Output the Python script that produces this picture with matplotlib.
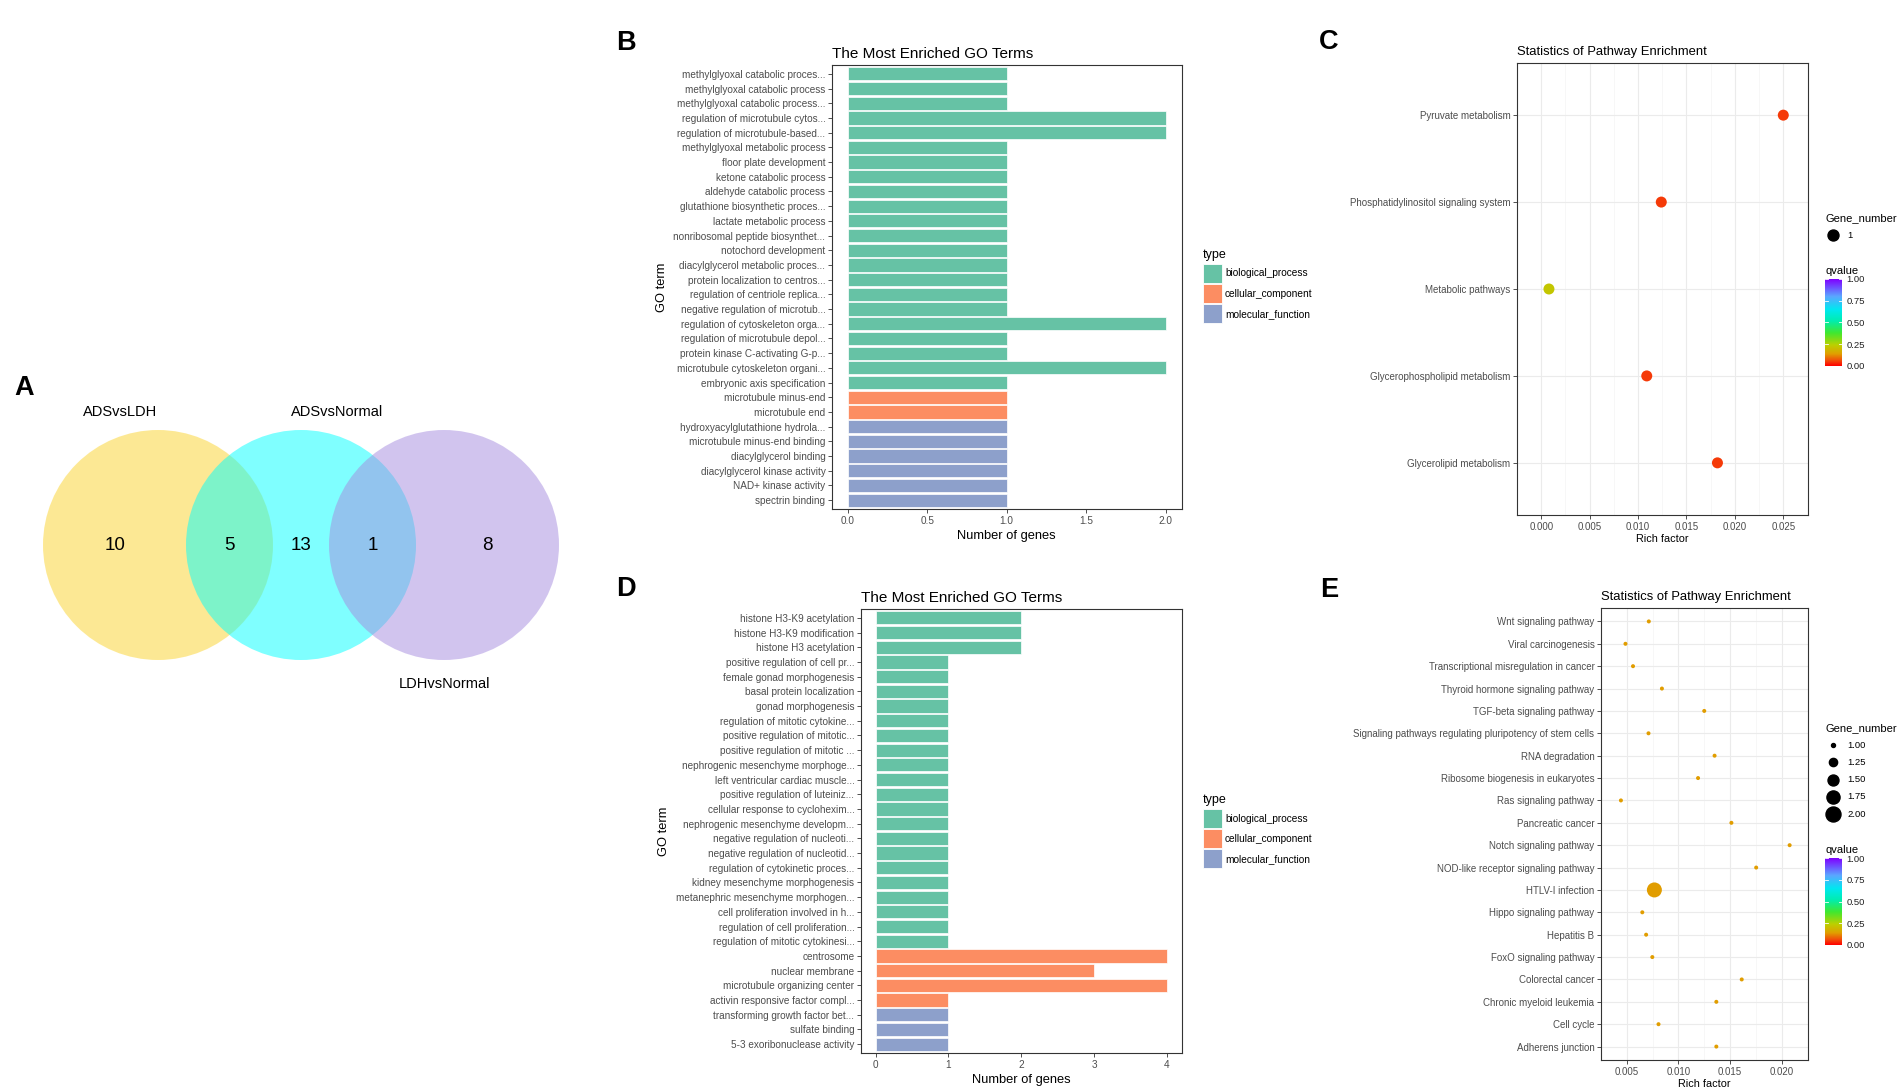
import numpy as np
import matplotlib
matplotlib.use('Agg')
import matplotlib.pyplot as plt
from matplotlib.patches import Circle, Rectangle
from matplotlib.colors import LinearSegmentedColormap

plt.rcParams['font.family'] = ['Liberation Sans', 'DejaVu Sans']

W, H = 1904, 1092

# ------------------------------------------------------------------ data
venn_sets = ['ADSvsLDH', 'ADSvsNormal', 'LDHvsNormal']
# regions: only A, A&B, only B, B&C, only C
venn_counts = [10, 5, 13, 1, 8]

go_b_terms = [
    'methylglyoxal catabolic proces...', 'methylglyoxal catabolic process',
    'methylglyoxal catabolic process...', 'regulation of microtubule cytos...',
    'regulation of microtubule-based...', 'methylglyoxal metabolic process',
    'floor plate development', 'ketone catabolic process',
    'aldehyde catabolic process', 'glutathione biosynthetic proces...',
    'lactate metabolic process', 'nonribosomal peptide biosynthet...',
    'notochord development', 'diacylglycerol metabolic proces...',
    'protein localization to centros...', 'regulation of centriole replica...',
    'negative regulation of microtub...', 'regulation of cytoskeleton orga...',
    'regulation of microtubule depol...', 'protein kinase C-activating G-p...',
    'microtubule cytoskeleton organi...', 'embryonic axis specification',
    'microtubule minus-end', 'microtubule end',
    'hydroxyacylglutathione hydrola...', 'microtubule minus-end binding',
    'diacylglycerol binding', 'diacylglycerol kinase activity',
    'NAD+ kinase activity', 'spectrin binding']
go_b_counts = [1, 1, 1, 2, 2, 1, 1, 1, 1, 1, 1, 1, 1, 1, 1, 1, 1, 2, 1, 1,
               2, 1, 1, 1, 1, 1, 1, 1, 1, 1]
go_b_types = (['biological_process'] * 22 + ['cellular_component'] * 2 +
              ['molecular_function'] * 6)

go_d_terms = [
    'histone H3-K9 acetylation', 'histone H3-K9 modification',
    'histone H3 acetylation', 'positive regulation of cell pr...',
    'female gonad morphogenesis', 'basal protein localization',
    'gonad morphogenesis', 'regulation of mitotic cytokine...',
    'positive regulation of mitotic...', 'positive regulation of mitotic ...',
    'nephrogenic mesenchyme morphoge...', 'left ventricular cardiac muscle...',
    'positive regulation of luteiniz...', 'cellular response to cyclohexim...',
    'nephrogenic mesenchyme developm...', 'negative regulation of nucleoti...',
    'negative regulation of nucleotid...', 'regulation of cytokinetic proces...',
    'kidney mesenchyme morphogenesis', 'metanephric mesenchyme morphogen...',
    'cell proliferation involved in h...', 'regulation of cell proliferation...',
    'regulation of mitotic cytokinesi...', 'centrosome', 'nuclear membrane',
    'microtubule organizing center', 'activin responsive factor compl...',
    'transforming growth factor bet...', 'sulfate binding',
    '5-3 exoribonuclease activity']
go_d_counts = [2, 2, 2, 1, 1, 1, 1, 1, 1, 1, 1, 1, 1, 1, 1, 1, 1, 1, 1, 1,
               1, 1, 1, 4, 3, 4, 1, 1, 1, 1]
go_d_types = (['biological_process'] * 23 + ['cellular_component'] * 4 +
              ['molecular_function'] * 3)

go_type_names = ['biological_process', 'cellular_component', 'molecular_function']
go_type_colors = ['#66C2A5', '#FC8D62', '#8DA0CB']

kegg_c_terms = ['Pyruvate metabolism', 'Phosphatidylinositol signaling system',
                'Metabolic pathways', 'Glycerophospholipid metabolism',
                'Glycerolipid metabolism']
kegg_c_rich = [0.0250, 0.0124, 0.0008, 0.0109, 0.0182]
kegg_c_q = [0.05, 0.05, 0.22, 0.05, 0.05]
kegg_c_genes = [1, 1, 1, 1, 1]

kegg_e_terms = ['Wnt signaling pathway', 'Viral carcinogenesis',
                'Transcriptional misregulation in cancer',
                'Thyroid hormone signaling pathway', 'TGF-beta signaling pathway',
                'Signaling pathways regulating pluripotency of stem cells',
                'RNA degradation', 'Ribosome biogenesis in eukaryotes',
                'Ras signaling pathway', 'Pancreatic cancer',
                'Notch signaling pathway', 'NOD-like receptor signaling pathway',
                'HTLV-I infection', 'Hippo signaling pathway', 'Hepatitis B',
                'FoxO signaling pathway', 'Colorectal cancer',
                'Chronic myeloid leukemia', 'Cell cycle', 'Adherens junction']
kegg_e_rich = [0.00713, 0.00487, 0.00560, 0.00840, 0.01250, 0.00710, 0.01350,
               0.01190, 0.00443, 0.01513, 0.02077, 0.01753, 0.00767, 0.00650,
               0.00687, 0.00747, 0.01613, 0.01367, 0.00807, 0.01367]
kegg_e_q = [0.14, 0.14, 0.14, 0.14, 0.14, 0.14, 0.14, 0.14, 0.14, 0.14,
            0.14, 0.14, 0.14, 0.14, 0.14, 0.14, 0.14, 0.14, 0.14, 0.14]
kegg_e_genes = [1, 1, 1, 1, 1, 1, 1, 1, 1, 1, 1, 1, 2, 1, 1, 1, 1, 1, 1, 1]
kegg_e_size_breaks = [1.00, 1.25, 1.50, 1.75, 2.00]
q_breaks = [0.00, 0.25, 0.50, 0.75, 1.00]

# ------------------------------------------------------------------ style
qcmap = LinearSegmentedColormap.from_list('q', [
    (0.00, '#FF0000'), (0.06, '#F24A0A'), (0.14, '#E0A000'),
    (0.24, '#BCD000'), (0.38, '#40E830'), (0.52, '#00EDB0'),
    (0.65, '#00E8F0'), (0.80, '#5AA8FF'), (1.00, '#8000FF')])
TICKCOL = '#4D4D4D'
FRAME = '#333333'

fig = plt.figure(figsize=(W / 100, H / 100), dpi=100)


def fax(l, t, r, b):
    return fig.add_axes([l / W, 1 - b / H, (r - l) / W, (b - t) / H])


def ftext(x, y, s, **kw):
    kw.setdefault('va', 'center')
    return fig.text(x / W, 1 - y / H, s, **kw)


def frect(l, t, w, h, **kw):
    fig.add_artist(Rectangle((l / W, 1 - (t + h) / H), w / W, h / H,
                             transform=fig.transFigure, **kw))


# ------------------------------------------------------------------ A: Venn
axA = fax(0, 0, 580, H)
axA.set_xlim(0, 580)
axA.set_ylim(H, 0)
axA.axis('off')
cx = [158, 301, 444]
cy = 545
r = 115
venn_cols = ['#FBD32B', '#00FFFF', '#A58BDF']
for x0, col in zip(cx, venn_cols):
    axA.add_patch(Circle((x0, cy), r, facecolor=col, edgecolor='none', alpha=0.5))
num_x = [cx[0] - 0.37 * r, (cx[0] + cx[1]) / 2, cx[1], (cx[1] + cx[2]) / 2,
         cx[2] + 0.38 * r]
for xx, v in zip(num_x, venn_counts):
    axA.text(xx, cy, str(v), ha='center', va='center', fontsize=13.5)
axA.text(cx[0] - 38, 412, venn_sets[0], ha='center', va='center', fontsize=10.5)
axA.text(cx[1] + 36, 412, venn_sets[1], ha='center', va='center', fontsize=10.5)
axA.text(cx[2], 684, venn_sets[2], ha='center', va='center', fontsize=10.5)

# ------------------------------------------------------------------ GO bars


def go_bar(ax, terms, counts, types, xticks, xticklabels):
    n = len(terms)
    y = np.arange(n)
    cmap = dict(zip(go_type_names, go_type_colors))
    ax.barh(y, counts, height=0.9, color=[cmap[t] for t in types],
            edgecolor='white', linewidth=0.5, zorder=2)
    xmax = max(counts)
    ax.set_xlim(-0.05 * xmax, 1.05 * xmax)
    ax.set_ylim(n - 1 + 0.6, -0.6)
    ax.set_yticks(y)
    ax.set_yticklabels(terms)
    ax.set_xticks(xticks)
    ax.set_xticklabels(xticklabels)
    ax.tick_params(axis='both', length=2.75, width=0.6, color=FRAME,
                   labelsize=7.2, labelcolor=TICKCOL, pad=2)
    for s in ax.spines.values():
        s.set_color(FRAME)
        s.set_linewidth(0.8)
    ax.set_title('The Most Enriched GO Terms', loc='left', fontsize=11, pad=5)
    ax.set_xlabel('Number of genes', fontsize=9.3, labelpad=3)
    ax.set_ylabel('GO term', fontsize=9.3, labelpad=4)


def type_legend(top):
    ftext(1203, top, 'type', fontsize=9, ha='left')
    for i, (nm, col) in enumerate(zip(go_type_names, go_type_colors)):
        yy = top + 9 + 20.2 * i
        frect(1203, yy, 19, 19, facecolor=col, edgecolor='white', linewidth=0.6)
        ftext(1225, yy + 9.5, nm, fontsize=7.3, ha='left')


axB = fax(832, 65, 1181.5, 509)
go_bar(axB, go_b_terms, go_b_counts, go_b_types,
       [0, 0.5, 1, 1.5, 2], ['0.0', '0.5', '1.0', '1.5', '2.0'])
type_legend(255)

axD = fax(861, 609, 1181.5, 1053)
go_bar(axD, go_d_terms, go_d_counts, go_d_types,
       [0, 1, 2, 3, 4], ['0', '1', '2', '3', '4'])
type_legend(800)

# ------------------------------------------------------------------ KEGG dots


def px_to_s(d):
    return (d * 0.72) ** 2


def gene_diam(g, gmin, gmax, dmin=4.0, dmax=15.0):
    if gmax == gmin:
        return 11.0
    a = dmin ** 2 + (g - gmin) / (gmax - gmin) * (dmax ** 2 - dmin ** 2)
    return np.sqrt(a)


def kegg_dot(ax, terms, rich, q, genes, xticks, xticklabels):
    n = len(terms)
    y = np.arange(n)
    gmin, gmax = min(genes), max(genes)
    sizes = [px_to_s(gene_diam(g, gmin, gmax)) for g in genes]
    ax.scatter(rich, y, s=sizes, c=q, cmap=qcmap, vmin=0, vmax=1,
               edgecolors='none', zorder=3)
    lo, hi = min(rich), max(rich)
    pad = 0.05 * (hi - lo)
    ax.set_xlim(lo - pad, hi + pad)
    ax.set_ylim(n - 1 + 0.6, -0.6)
    ax.set_yticks(y)
    ax.set_yticklabels(terms)
    ax.set_xticks(xticks)
    ax.set_xticklabels(xticklabels)
    step = xticks[1] - xticks[0]
    ax.set_xticks([t + step / 2 for t in [xticks[0] - step] + list(xticks)], minor=True)
    ax.grid(True, which='major', color='#EBEBEB', linewidth=0.8, zorder=0)
    ax.grid(True, which='minor', axis='x', color='#F4F4F4', linewidth=0.5, zorder=0)
    ax.set_axisbelow(True)
    ax.tick_params(axis='both', which='major', length=2.75, width=0.6, color=FRAME,
                   labelsize=7.0, labelcolor=TICKCOL, pad=2)
    ax.tick_params(axis='both', which='minor', length=0)
    for s in ax.spines.values():
        s.set_color(FRAME)
        s.set_linewidth(0.8)
    ax.set_title('Statistics of Pathway Enrichment', loc='left', fontsize=9.4, pad=6)
    ax.set_xlabel('Rich factor', fontsize=7.8, labelpad=2)


def q_legend(title_y, top, bottom):
    ftext(1825, title_y, 'qvalue', fontsize=8, ha='left')
    cax = fax(1825, top, 1842, bottom)
    grad = np.linspace(0, 1, 256)[:, None]
    cax.imshow(grad, aspect='auto', cmap=qcmap, origin='lower',
               extent=[0, 1, 0, 1], vmin=0, vmax=1)
    cax.set_xlim(0, 1)
    cax.set_ylim(0, 1)
    cax.set_xticks([])
    cax.yaxis.tick_right()
    cax.set_yticks(q_breaks)
    cax.set_yticklabels(['%.2f' % b for b in q_breaks])
    cax.tick_params(axis='y', length=0, labelsize=6.8, pad=3, labelcolor='#222222')
    for s in cax.spines.values():
        s.set_visible(False)
    for b in q_breaks:
        cax.plot([0, 0.2], [b, b], color='white', lw=0.6)
        cax.plot([0.8, 1], [b, b], color='white', lw=0.6)


axC = fax(1517, 63, 1807.5, 515)
kegg_dot(axC, kegg_c_terms, kegg_c_rich, kegg_c_q, kegg_c_genes,
         [0.000, 0.005, 0.010, 0.015, 0.020, 0.025],
         ['0.000', '0.005', '0.010', '0.015', '0.020', '0.025'])
ftext(1825, 218, 'Gene_number', fontsize=8, ha='left')
legC = fax(1825, 226, 1900, 244)
legC.set_xlim(0, 75)
legC.set_ylim(18, 0)
legC.axis('off')
legC.scatter([8], [9], s=px_to_s(gene_diam(kegg_c_genes[0], 1, 1)), color='black')
legC.text(22, 9, str(kegg_c_genes[0]), fontsize=6.8, va='center', ha='left')
q_legend(271, 279, 366)

axE = fax(1601, 608, 1807.5, 1060)
kegg_dot(axE, kegg_e_terms, kegg_e_rich, kegg_e_q, kegg_e_genes,
         [0.005, 0.010, 0.015, 0.020], ['0.005', '0.010', '0.015', '0.020'])
ftext(1825, 728, 'Gene_number', fontsize=8, ha='left')
legE = fax(1825, 736, 1900, 824)
legE.set_xlim(0, 75)
legE.set_ylim(88, 0)
legE.axis('off')
for i, b in enumerate(kegg_e_size_breaks):
    yy = 9 + 17.3 * i
    legE.scatter([8], [yy], s=px_to_s(gene_diam(b, min(kegg_e_genes), max(kegg_e_genes))),
                 color='black')
    legE.text(22, yy, '%.2f' % b, fontsize=6.8, va='center', ha='left')
q_legend(850, 858, 945)

# ------------------------------------------------------------------ panel letters
for lab, (x, y) in zip('ABCDE', [(24, 388), (626, 43), (1329, 42), (626, 589), (1329, 590)]):
    ftext(x, y, lab, fontsize=19.5, fontweight='bold', ha='center')

fig.savefig('out.png', dpi=100)
